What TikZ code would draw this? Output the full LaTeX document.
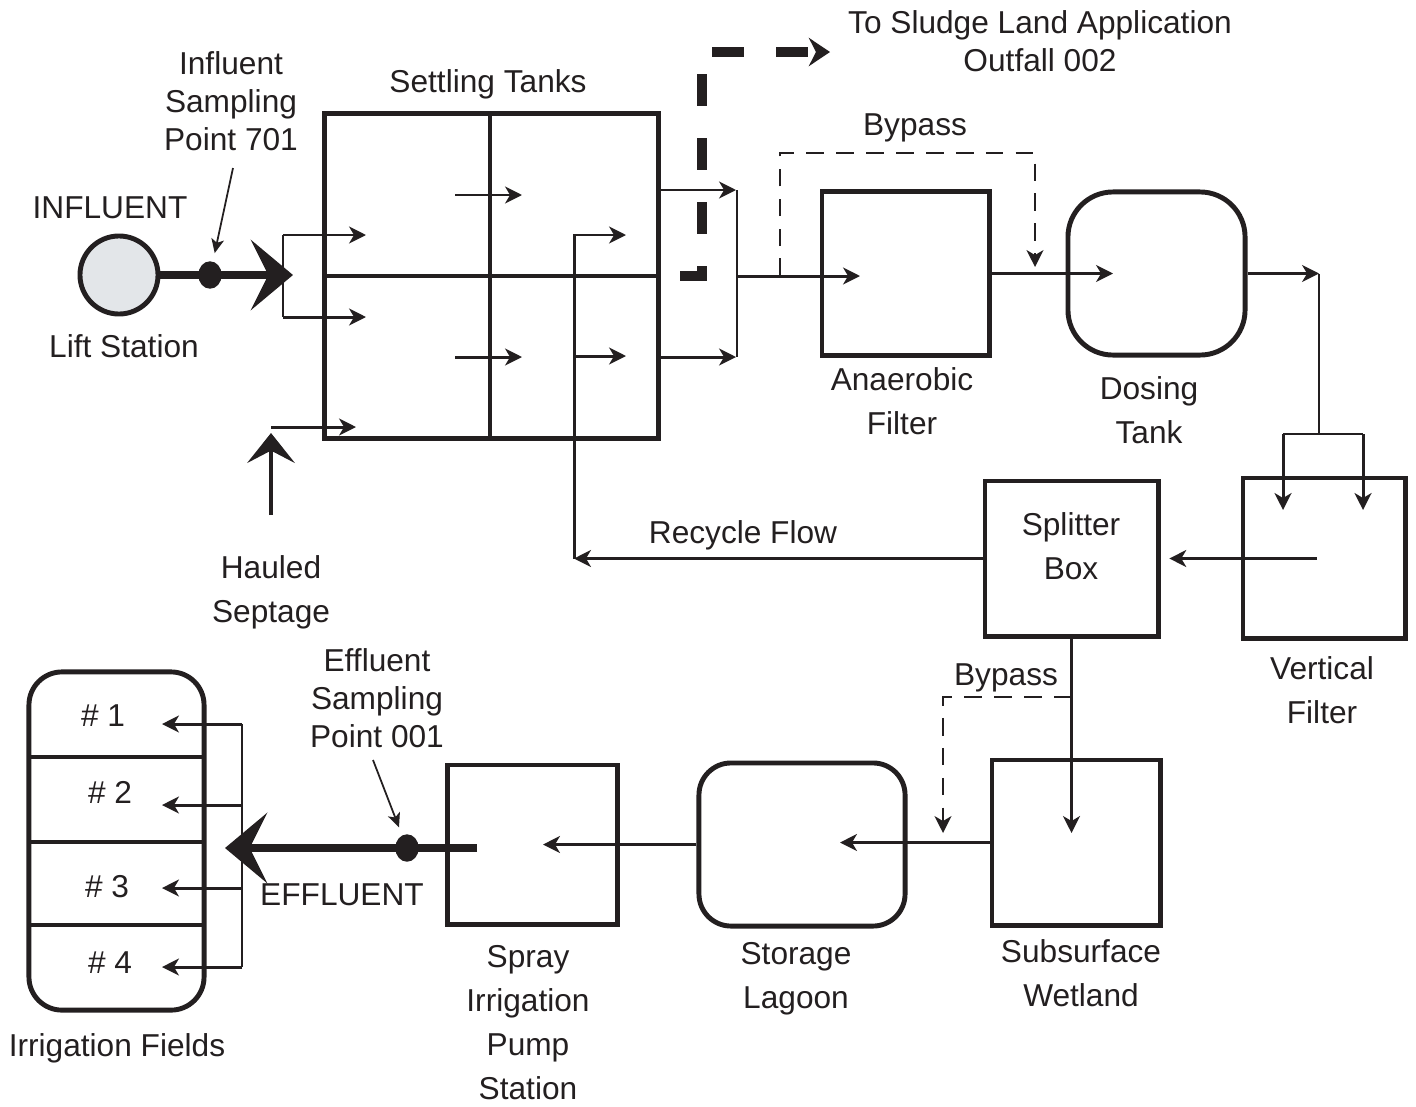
\documentclass[tikz,border=0pt]{standalone}
\usepackage{fontspec}
\setmainfont{Liberation Sans}
\usetikzlibrary{arrows.meta,shapes.geometric}
\definecolor{ink}{HTML}{231F20}
\definecolor{liftfill}{HTML}{E3E6E9}

\begin{document}
\begin{tikzpicture}[x=0.01cm, y=-0.01cm, color=ink,
  font=\fontsize{9}{12.5}\selectfont,
  unit/.style={draw, line width=1.4pt, inner sep=0pt},
  wall/.style={line width=1.4pt},
  lbl/.style={align=center, inner sep=0pt},
  smalllbl/.style={lbl, font=\fontsize{9}{10.8}\selectfont},
  flow/.style={line width=0.85pt, -{Stealth[length=4.8pt, width=4.8pt, inset=1.4pt]}},
  pipe/.style={line width=0.6pt},
  bypass/.style={flow, line width=0.6pt, dash pattern=on 5pt off 3.5pt},
  bigflow/.style={line width=2.5pt, -{Stealth[length=12pt, width=20pt, inset=5pt]}},
  septage/.style={line width=1.4pt, -{Stealth[length=8.5pt, width=13.5pt, inset=3.5pt]}},
  sludge/.style={line width=2.6pt, dash pattern=on 0.32cm off 0.32cm, -{Stealth[length=6pt, width=8pt, inset=2pt]}},
  pointer/.style={line width=0.5pt, -{Stealth[length=4pt, width=3.6pt, inset=1pt]}, shorten >=2.5pt},
  sample/.style={ellipse, draw, fill=ink, minimum width=0.22cm, minimum height=0.26cm, inner sep=0pt}]
\useasboundingbox (0,0) rectangle (1416,1106);

% units
\node[unit, circle, fill=liftfill, minimum size=0.78cm] (ls) at (119,275) {};
\node[unit, minimum width=3.33cm, minimum height=3.24cm] (st) at (491.5,276) {};
\node[unit, minimum width=1.67cm, minimum height=1.63cm] (af) at (905.5,273.5) {};
\node[unit, rounded corners=0.45cm, minimum width=1.77cm, minimum height=1.63cm] (dt) at (1156.5,273.5) {};
\node[unit, minimum width=1.62cm, minimum height=1.60cm] (vf) at (1324,558) {};
\node[unit, minimum width=1.73cm, minimum height=1.55cm] (sb) at (1071.5,558.5) {};
\node[unit, minimum width=1.68cm, minimum height=1.65cm] (sw) at (1076,842.5) {};
\node[unit, rounded corners=0.32cm, minimum width=2.06cm, minimum height=1.63cm] (sl) at (802,844.5) {};
\node[unit, minimum width=1.69cm, minimum height=1.59cm] (ps) at (532.5,844.5) {};
\node[unit, rounded corners=0.33cm, minimum width=1.75cm, minimum height=3.38cm] (irr) at (116.5,841) {};

% settling tank walls
\draw[wall] (490,114) -- (490,438);
\draw[wall] (st.west) -- (st.east);
% field walls
\draw[wall] (29,757) -- (204,757);
\draw[wall] (29,842) -- (204,842);
\draw[wall] (29,925) -- (204,925);

% labels
\node[smalllbl] (sludgetxt) at (1040,41) {To Sludge Land Application\\Outfall 002};
\node[smalllbl] (isptxt) at (231,101) {Influent\\Sampling\\Point 701};
\node[lbl] (sttxt) at (488,84) {Settling Tanks};
\node[lbl] (bptxt) at (915,128) {Bypass};
\node[lbl] (inftxt) at (110,208) {INFLUENT};
\node[lbl] (lstxt) at (124,346) {Lift Station};
\node[lbl] (aftxt) at (902,401) {Anaerobic\\Filter};
\node[lbl] (dttxt) at (1149,410) {Dosing\\Tank};
\node[lbl] (hstxt) at (271,592) {Hauled\\Septage};
\node[lbl] (rctxt) at (743,535) {Recycle Flow};
\node[lbl] (sbtxt) at (1071,546) {Splitter\\Box};
\node[lbl] (vftxt) at (1322,690) {Vertical\\Filter};
\node[lbl] (bp2txt) at (1006,678) {Bypass};
\node[smalllbl] (esptxt) at (377,698) {Effluent\\Sampling\\Point 001};
\node[lbl] (f1) at (103,716) {\# 1};
\node[lbl] (f2) at (110,792) {\# 2};
\node[lbl] (f3) at (107,887) {\# 3};
\node[lbl] (f4) at (110,963) {\# 4};
\node[lbl] (efftxt) at (342,895) {EFFLUENT};
\node[lbl] (pstxt) at (528,1023) {Spray\\Irrigation\\Pump\\Station};
\node[lbl] (sltxt) at (796,979) {Storage\\Lagoon};
\node[lbl] (swtxt) at (1081,973) {Subsurface\\Wetland};
\node[lbl] (irrtxt) at (117,1048) {Irrigation Fields};

% junctions and arrow ends
\coordinate (inl) at (293,275);
\coordinate (ina) at (283,235);
\coordinate (inb) at (283,317);
\coordinate (ina2) at (366,235);
\coordinate (inb2) at (366,317);
\coordinate (isk) at (233,168);
\coordinate (hs) at (271,515);
\coordinate (hsa) at (271,427);
\coordinate (hsb) at (356,427);
\coordinate (hstip) at (271,433);
\coordinate (t1a) at (455,195);
\coordinate (t1b) at (522,195);
\coordinate (t2a) at (455,357);
\coordinate (t2b) at (522,357);
\coordinate (o1a) at (658,190);
\coordinate (o1b) at (736,190);
\coordinate (o2a) at (658,357);
\coordinate (o2b) at (736,357);
\coordinate (oc1) at (737,190);
\coordinate (oc2) at (737,357);
\coordinate (oc) at (737,276);
\coordinate (afin) at (860,276);
\coordinate (bpa) at (780,276);
\coordinate (bpb) at (780,153);
\coordinate (bpc) at (1035,153);
\coordinate (bpd) at (1035,267);
\coordinate (sla) at (680,276);
\coordinate (slb) at (702,276);
\coordinate (slc) at (702,52);
\coordinate (sld) at (830,52);
\coordinate (dtin) at (1113,273.5);
\coordinate (dto) at (1319,273.5);
\coordinate (vfb) at (1319,434);
\coordinate (vfl) at (1283,434);
\coordinate (vfr) at (1363,434);
\coordinate (vfl2) at (1283,510);
\coordinate (vfr2) at (1363,510);
\coordinate (vfo) at (1317,558.5);
\coordinate (rc) at (574,558.5);
\coordinate (rct) at (574,235);
\coordinate (rct2) at (626,235);
\coordinate (rcm) at (574,356);
\coordinate (rcm2) at (626,356);
\coordinate (swin) at (1071.5,833);
\coordinate (bpe) at (1071.5,697);
\coordinate (bpf) at (943,697);
\coordinate (bpg) at (943,833);
\coordinate (slin) at (840,842.5);
\coordinate (psin) at (543,844.5);
\coordinate (efa) at (477,848);
\coordinate (efb) at (225,848);
\coordinate (esk) at (373,760);
\coordinate (fc1) at (242,724);
\coordinate (fc2) at (242,805);
\coordinate (fc3) at (242,888);
\coordinate (fc4) at (242,967);
\coordinate (fa1) at (162,724);
\coordinate (fa2) at (162,805);
\coordinate (fa3) at (162,888);
\coordinate (fa4) at (162,967);

% influent
\draw[bigflow] (ls) -- (inl);
\node[sample] (isp) at (210,275) {};
\draw[pointer] (isk) -- (isp);
\draw[pipe] (ina) -- (inb);
\draw[flow] (ina) -- (ina2);
\draw[flow] (inb) -- (inb2);
\draw[septage] (hs) -- (hstip);
\draw[flow] (hsa) -- (hsb);

% settling tanks
\draw[flow] (t1a) -- (t1b);
\draw[flow] (t2a) -- (t2b);
\draw[flow] (o1a) -- (o1b);
\draw[flow] (o2a) -- (o2b);
\draw[pipe] (oc1) -- (oc2);
\draw[flow] (oc) -- (afin);
\draw[bypass] (bpa) -- (bpb) -- (bpc) -- (bpd);
\draw[sludge] (sla) -- (slb) -- (slc) -- (sld);

% filters
\draw[flow] (af.east) -- (dtin);
\draw[flow] (dt.east) -- (dto);
\draw[pipe] (dto) -- (vfb);
\draw[pipe] (vfl) -- (vfr);
\draw[flow] (vfl) -- (vfl2);
\draw[flow] (vfr) -- (vfr2);
\draw[flow, shorten >=2.5pt] (vfo) -- (sb.east);

% recycle
\draw[flow] (sb.west) -- (rc);
\draw[flow] (rc) -- (rct) -- (rct2);
\draw[flow] (rcm) -- (rcm2);

% wetland to fields
\draw[flow] (sb.south) -- (swin);
\draw[bypass] (bpe) -- (bpf) -- (bpg);
\draw[flow] (sw.west) -- (slin);
\draw[flow] (sl.west) -- (psin);
\draw[bigflow] (efa) -- (efb);
\node[sample] (esp) at (407,848) {};
\draw[pointer] (esk) -- (esp);
\draw[pipe] (fc1) -- (fc4);
\draw[flow] (fc1) -- (fa1);
\draw[flow] (fc2) -- (fa2);
\draw[flow] (fc3) -- (fa3);
\draw[flow] (fc4) -- (fa4);
\end{tikzpicture}
\end{document}
